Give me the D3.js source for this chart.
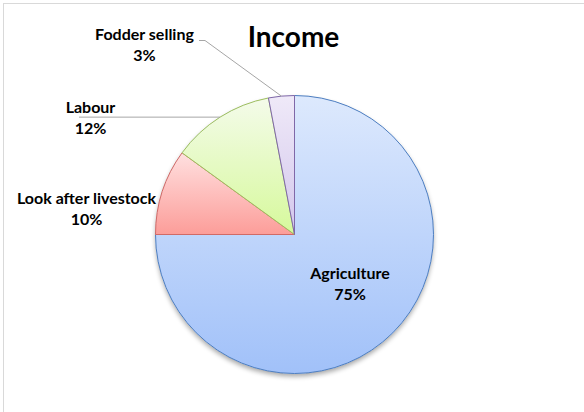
<!DOCTYPE html>
<html>
<head>
<meta charset="utf-8">
<script src="https://cdn.jsdelivr.net/npm/d3@7"></script>
<style>
  html, body { margin: 0; padding: 0; background: #fff; }
  svg { display: block; }
  text { font-family: Lato, "Open Sans", sans-serif; font-weight: bold; fill: #000; }
</style>
</head>
<body>
<div id="chart"></div>
<script>
// Income shares (percent)
const categories = ["Agriculture", "Look after livestock", "Labour", "Fodder selling"];
const values = [75, 10, 12, 3];
const percentLabels = ["75%", "10%", "12%", "3%"];
const chartTitle = "Income";

const W = 584, H = 412;
const cx = 294.5, cy = 234.5, R = 139;

// fill gradients (top → bottom) and outline per slice
const fills = [
  ["#dde9fd", "#a1c1f9"],
  ["#ffe0e0", "#fc9d99"],
  ["#f4fbea", "#d6f99b"],
  ["#efe9f8", "#d3c7ec"]
];
const strokes = ["#4f7fc0", "#d06a66", "#9fbf5e", "#8068a8"];

const svg = d3.select("#chart").append("svg")
  .attr("width", W).attr("height", H);

const defs = svg.append("defs");
fills.forEach((f, i) => {
  const g = defs.append("linearGradient")
    .attr("id", "grad" + i)
    .attr("x1", 0).attr("y1", 0).attr("x2", 0).attr("y2", 1);
  g.append("stop").attr("offset", "0%").attr("stop-color", f[0]);
  g.append("stop").attr("offset", "100%").attr("stop-color", f[1]);
});
const shadow = defs.append("filter").attr("id", "shadow")
  .attr("x", "-20%").attr("y", "-20%").attr("width", "140%").attr("height", "140%");
shadow.append("feGaussianBlur").attr("in", "SourceAlpha").attr("stdDeviation", 2.5);
shadow.append("feOffset").attr("dx", 0).attr("dy", 3).attr("result", "ob");
shadow.append("feComponentTransfer").append("feFuncA").attr("type", "linear").attr("slope", 0.35);
const merge = shadow.append("feMerge");
merge.append("feMergeNode");
merge.append("feMergeNode").attr("in", "SourceGraphic");

// chart frame
svg.append("rect")
  .attr("x", 3.5).attr("y", 3.5)
  .attr("width", W + 10).attr("height", H + 10)
  .attr("fill", "none").attr("stroke", "#d9d9d9").attr("stroke-width", 1);

// title
svg.append("text")
  .attr("x", 293.5).attr("y", 46.5)
  .attr("text-anchor", "middle")
  .style("font-size", "28px")
  .text(chartTitle);

const data = categories.map((c, i) => ({ name: c, value: values[i], pct: percentLabels[i], i }));

const pie = d3.pie().sort(null).value(d => d.value);
const arcs = pie(data);
const arc = d3.arc().innerRadius(0).outerRadius(R);

const g = svg.append("g").attr("transform", `translate(${cx},${cy})`);

// soft shadow under the whole pie
g.append("circle").attr("r", R).attr("fill", "#a1c1f9").attr("filter", "url(#shadow)");

g.selectAll("path.slice")
  .data(arcs)
  .join("path")
  .attr("class", "slice")
  .attr("d", arc)
  .attr("fill", d => `url(#grad${d.data.i})`)
  .attr("stroke", d => strokes[d.data.i])
  .attr("stroke-width", 1)
  .attr("stroke-linejoin", "round");

// label positions (baseline of the first line, centred)
const labelPos = {
  "Agriculture": [350, 279],
  "Look after livestock": [86.5, 204],
  "Labour": [90.5, 113],
  "Fodder selling": [144.5, 40]
};

// leader lines from rim midpoint to outer labels
function rimPoint(d) {
  const a = (d.startAngle + d.endAngle) / 2;
  return [cx + R * Math.sin(a), cy - R * Math.cos(a)];
}
const leaders = {
  "Labour": d => { const p = rimPoint(d); return [[79, p[1]], p]; },
  "Fodder selling": d => { const p = rimPoint(d); return [[199, 40.5], [205, 40.5], p]; }
};
const line = d3.line();
arcs.forEach(d => {
  const f = leaders[d.data.name];
  if (!f) return;
  svg.append("path")
    .attr("d", line(f(d)))
    .attr("fill", "none")
    .attr("stroke", "#a6a6a6")
    .attr("stroke-width", 1);
});

arcs.forEach(d => {
  const [x, y] = labelPos[d.data.name];
  const t = svg.append("text")
    .attr("x", x).attr("y", y)
    .attr("text-anchor", "middle")
    .style("font-size", "16px");
  t.append("tspan").attr("x", x).text(d.data.name);
  t.append("tspan").attr("x", x).attr("dy", 21).text(d.data.pct);
});
</script>
</body>
</html>
